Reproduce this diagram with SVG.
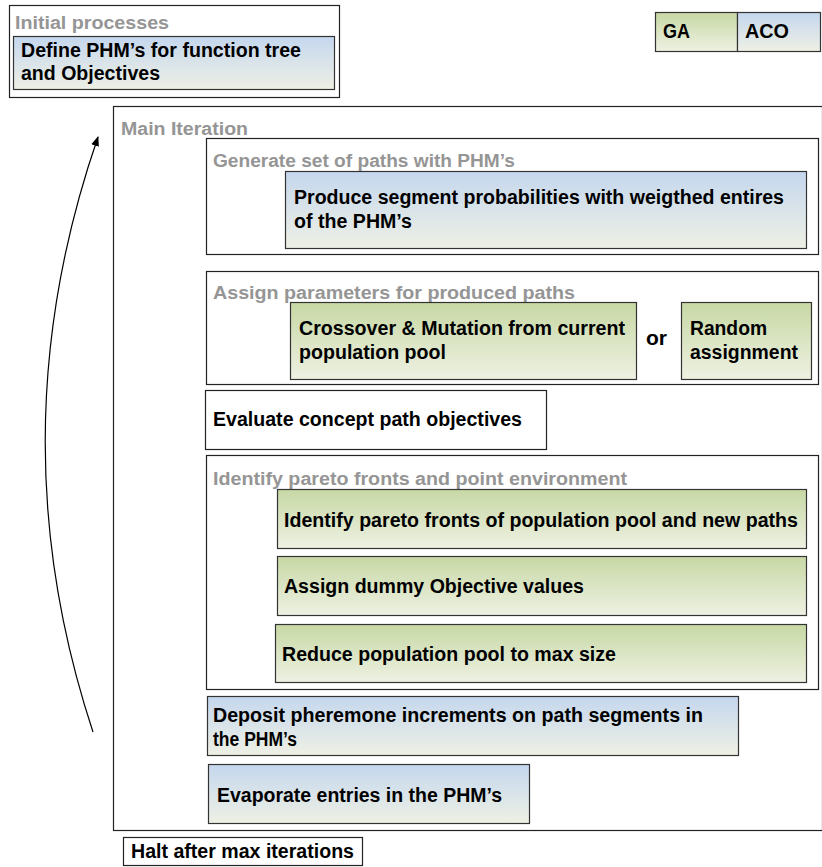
<svg xmlns="http://www.w3.org/2000/svg" width="822" height="867" viewBox="0 0 822 867">
<style>
text{font-family:"Liberation Sans",Arial,sans-serif;font-weight:bold;}
.lbl{fill:#959595;font-size:18px;}
.t{fill:#000;font-size:19.5px;}
.frame{fill:#fff;stroke:#222;stroke-width:1.2;}
.blue{fill:url(#gb);stroke:#333;stroke-width:1.2;}
.green{fill:url(#gg);stroke:#333;stroke-width:1.2;}
.white{fill:#fff;stroke:#222;stroke-width:1.2;}
</style>
<defs>
<linearGradient id="gb" x1="0" y1="0" x2="0" y2="1">
<stop offset="0" stop-color="#c5d7ee"/>
<stop offset="1" stop-color="#eef0e4"/>
</linearGradient>
<linearGradient id="gg" x1="0" y1="0" x2="0" y2="1">
<stop offset="0" stop-color="#c7d8a4"/>
<stop offset="1" stop-color="#eef1e3"/>
</linearGradient>
<marker id="ah" markerWidth="10" markerHeight="10" refX="9" refY="5" orient="auto" markerUnits="userSpaceOnUse">
<path d="M0,1 L10,5 L0,9 Z" fill="#000"/>
</marker>
</defs>
<rect width="822" height="867" fill="#fff"/>

<g id="initial">
<rect class="frame" x="9.5" y="5.5" width="330" height="92"/>
<text class="lbl" x="15" y="29" textLength="154" lengthAdjust="spacingAndGlyphs">Initial processes</text>
<rect class="blue" x="13.5" y="36.5" width="321" height="53"/>
<text class="t" x="21" y="57" textLength="280" lengthAdjust="spacingAndGlyphs">Define PHM’s for function tree</text>
<text class="t" x="21" y="80" textLength="139" lengthAdjust="spacingAndGlyphs">and Objectives</text>
</g>

<g id="legend">
<rect class="green" x="655.5" y="12.5" width="82" height="39"/>
<rect class="blue" x="737.5" y="12.5" width="83" height="39"/>
<text class="t" x="663" y="38" textLength="27" lengthAdjust="spacingAndGlyphs">GA</text>
<text class="t" x="745" y="38" textLength="44" lengthAdjust="spacingAndGlyphs">ACO</text>
</g>

<g id="main">
<rect class="frame" x="113.5" y="106.5" width="709" height="724"/>
<text class="lbl" x="121" y="135" textLength="127" lengthAdjust="spacingAndGlyphs">Main Iteration</text>
</g>

<g id="generate">
<rect class="frame" x="206.5" y="138.5" width="612" height="116"/>
<text class="lbl" x="213" y="167" textLength="302" lengthAdjust="spacingAndGlyphs">Generate set of paths with PHM’s</text>
<rect class="blue" x="285.5" y="171.5" width="521" height="77"/>
<text class="t" x="294" y="204" textLength="490" lengthAdjust="spacingAndGlyphs">Produce segment probabilities with weigthed entires</text>
<text class="t" x="294" y="228" textLength="118" lengthAdjust="spacingAndGlyphs">of the PHM’s</text>
</g>

<g id="assign">
<rect class="frame" x="206.5" y="271.5" width="612" height="113"/>
<text class="lbl" x="213" y="299" textLength="362" lengthAdjust="spacingAndGlyphs">Assign parameters for produced paths</text>
<rect class="green" x="290.5" y="302.5" width="346" height="77"/>
<text class="t" x="299" y="335" textLength="326" lengthAdjust="spacingAndGlyphs">Crossover &amp; Mutation from current</text>
<text class="t" x="299" y="359" textLength="147" lengthAdjust="spacingAndGlyphs">population pool</text>
<text class="t" x="646" y="345" textLength="21" lengthAdjust="spacingAndGlyphs">or</text>
<rect class="green" x="681.5" y="302.5" width="130" height="77"/>
<text class="t" x="690" y="335" textLength="77" lengthAdjust="spacingAndGlyphs">Random</text>
<text class="t" x="690" y="359" textLength="108" lengthAdjust="spacingAndGlyphs">assignment</text>
</g>

<g id="evaluate">
<rect class="white" x="205.5" y="390.5" width="341" height="59"/>
<text class="t" x="213" y="426" textLength="309" lengthAdjust="spacingAndGlyphs">Evaluate concept path objectives</text>
</g>

<g id="identify">
<rect class="frame" x="206.5" y="455.5" width="612" height="234"/>
<text class="lbl" x="213" y="485" textLength="414" lengthAdjust="spacingAndGlyphs">Identify pareto fronts and point environment</text>
<rect class="green" x="277.5" y="489.5" width="529" height="59"/>
<text class="t" x="284" y="527" textLength="514" lengthAdjust="spacingAndGlyphs">Identify pareto fronts of population pool and new paths</text>
<rect class="green" x="277.5" y="556.5" width="529" height="59"/>
<text class="t" x="284" y="593" textLength="300" lengthAdjust="spacingAndGlyphs">Assign dummy Objective values</text>
<rect class="green" x="275.5" y="624.5" width="531" height="58"/>
<text class="t" x="282" y="661" textLength="334" lengthAdjust="spacingAndGlyphs">Reduce population pool to max size</text>
</g>

<g id="deposit">
<rect class="blue" x="207.5" y="696.5" width="531" height="59"/>
<text class="t" x="213" y="722" textLength="490" lengthAdjust="spacingAndGlyphs">Deposit pheremone increments on path segments in</text>
<text class="t" x="213" y="746" textLength="84" lengthAdjust="spacingAndGlyphs">the PHM’s</text>
</g>

<g id="evaporate">
<rect class="blue" x="208.5" y="764.5" width="321" height="59"/>
<text class="t" x="217" y="802" textLength="285" lengthAdjust="spacingAndGlyphs">Evaporate entries in the PHM’s</text>
</g>

<g id="halt">
<rect class="white" x="123.5" y="837.5" width="239" height="28"/>
<text class="t" x="131" y="858" textLength="223" lengthAdjust="spacingAndGlyphs">Halt after max iterations</text>
</g>

<g id="connectors">
<path d="M93,732 Q-5,435 98,137" fill="none" stroke="#000" stroke-width="1.2" marker-end="url(#ah)"/>
</g>
</svg>
